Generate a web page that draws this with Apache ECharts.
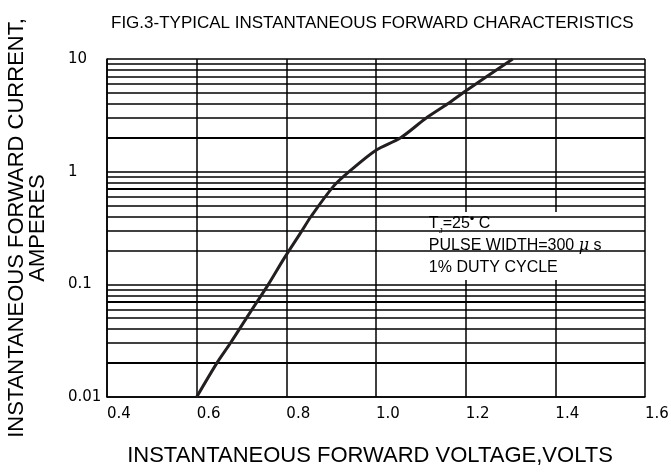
<!DOCTYPE html>
<html>
<head>
<meta charset="utf-8">
<script src="https://cdn.jsdelivr.net/npm/echarts@6/dist/echarts.min.js"></script>
<style>html,body{margin:0;padding:0;background:#fff}#c{width:671px;height:473px}</style>
</head>
<body>
<div id="c"></div>
<script>
// ---- data ----
const voltage = [0.60, 0.645, 0.675, 0.72, 0.76, 0.795, 0.835, 0.855, 0.905, 0.94, 1.0, 1.055, 1.11, 1.16, 1.20, 1.305];
const current = [0.010, 0.020, 0.030, 0.057, 0.10, 0.17, 0.30, 0.40, 0.74, 1.0, 1.55, 2.0, 2.95, 4.0, 5.2, 10];
const xTicks = [0.4, 0.6, 0.8, 1.0, 1.2, 1.4, 1.6];
const yTicks = [0.01, 0.1, 1, 10];
const minorGrid = [0.02,0.03,0.04,0.05,0.06,0.07,0.08,0.09,0.2,0.3,0.4,0.5,0.6,0.7,0.8,0.9,2,3,4,5,6,7,8,9];
const heavyGrid = [0.02, 0.07, 0.7, 2];
const noteBox = {x1: 1.109, y1: 0.439, x2: 1.56, y2: 0.109};

const chart = echarts.init(document.getElementById('c'), null, {renderer: 'canvas'});
const FONT = '"Liberation Sans", Arial, sans-serif';
const TICKFONT = '"DejaVu Sans", sans-serif';

const option = {
  backgroundColor: '#fff',
  animation: false,
  title: {
    text: 'FIG.3-TYPICAL INSTANTANEOUS FORWARD CHARACTERISTICS',
    left: 106, top: 10,
    textStyle: {fontFamily: FONT, fontSize: 17, fontWeight: 'normal', color: '#000'}
  },
  grid: {left: 107, right: 26, top: 59, bottom: 76, containLabel: false, outerBoundsMode: 'none'},
  xAxis: {
    type: 'value', min: xTicks[0], max: xTicks[xTicks.length-1], interval: 0.2,
    name: 'INSTANTANEOUS FORWARD VOLTAGE,VOLTS',
    nameLocation: 'middle', nameGap: 48,
    nameTextStyle: {fontFamily: FONT, fontSize: 22, color: '#000', padding: [0, 12, 0, 0]},
    axisLine: {show: true, lineStyle: {color: '#000', width: 1.5}},
    axisTick: {show: false},
    axisLabel: {
      margin: 10, align: 'left', fontFamily: TICKFONT, fontSize: 15, color: '#000',
      formatter: v => v.toFixed(1)
    },
    splitLine: {show: true, lineStyle: {color: '#000', width: 1.5}}
  },
  yAxis: {
    type: 'log', logBase: 10, min: yTicks[0], max: yTicks[yTicks.length-1],
    name: 'INSTANTANEOUS FORWARD CURRENT,\nAMPERES',
    nameLocation: 'middle', nameGap: 59, nameRotate: 90,
    nameTextStyle: {fontFamily: FONT, fontSize: 22, color: '#000', lineHeight: 21},
    axisLine: {show: true, lineStyle: {color: '#000', width: 1.5}},
    axisTick: {show: false},
    axisLabel: {
      margin: 39, align: 'left', fontFamily: TICKFONT, fontSize: 15, color: '#000',
      padding: [0, 0, 10, 0],
      formatter: v => String(+v.toPrecision(3))
    },
    splitLine: {show: true, lineStyle: {color: '#000', width: 1.5}}
  },
  series: [
    {
      type: 'line', z: 2,
      data: [],
      markLine: {
        silent: true, symbol: 'none', animation: false,
        label: {show: false},
        lineStyle: {type: 'solid', color: '#000', width: 1.5},
        data: minorGrid.map(v => ({yAxis: v, lineStyle: {type: 'solid', color: '#000', width: heavyGrid.includes(v) ? 2.2 : 1.5}}))
      }
    },
    {
      type: 'line', z: 5,
      data: [],
      markArea: {
        silent: true,
        itemStyle: {color: '#fff', opacity: 1},
        label: {
          show: true, position: 'insideLeft', distance: 4,
          formatter: '{a|T}{sub|J}{a|=25}{sup|•}{a| C}\n{a|PULSE WIDTH=300 }{mu|μ}{a| s}\n{a|1% DUTY CYCLE}',
          rich: {
            a: {fontFamily: FONT, fontSize: 16, color: '#000', lineHeight: 22},
            sub: {fontFamily: FONT, fontSize: 8, color: '#000', lineHeight: 22, verticalAlign: 'bottom'},
            sup: {fontFamily: FONT, fontSize: 13, color: '#000', lineHeight: 22, verticalAlign: 'top'},
            mu: {fontFamily: '"DejaVu Serif", serif', fontStyle: 'italic', fontSize: 16, color: '#000', lineHeight: 22}
          }
        },
        data: [[{xAxis: noteBox.x1, yAxis: noteBox.y1}, {xAxis: noteBox.x2, yAxis: noteBox.y2}]]
      }
    },
    {
      type: 'line', z: 6,
      data: voltage.map((v, i) => [v, current[i]]),
      showSymbol: false, smooth: 0.3,
      lineStyle: {color: '#231f20', width: 3}
    }
  ]
};
chart.setOption(option);
</script>
</body>
</html>
